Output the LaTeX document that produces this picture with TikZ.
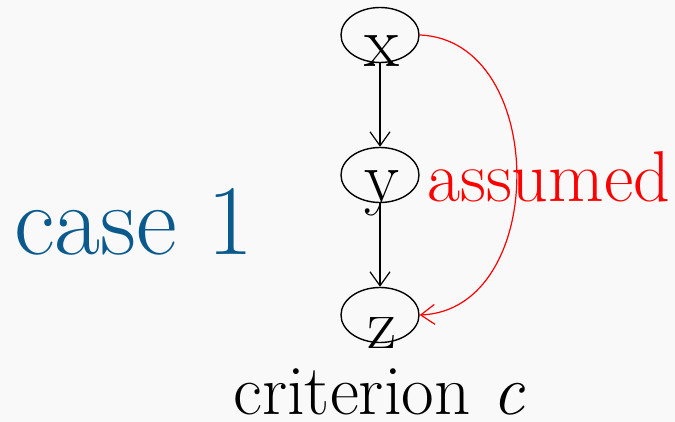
\documentclass[tikz,border=0pt]{standalone}
\usetikzlibrary{shapes.geometric,arrows.meta}
\definecolor{bg}{RGB}{249,249,249}
\definecolor{caseblue}{RGB}{11,90,142}
\begin{document}
\begin{tikzpicture}[x=1pt,y=-1pt,
 ell/.style={draw,ellipse,line width=1.4pt,minimum width=78pt,minimum height=55pt,inner sep=0pt},
 letter/.style={inner sep=0pt,anchor=base,font=\fontsize{72}{80}\selectfont},
 arr/.style={-{Straight Barb[length=14pt,width=20pt]},line width=1.2pt},
 txt/.style={inner sep=0pt,anchor=base west}
]
\fill[bg] (0,0) rectangle (675,422);
\useasboundingbox (0,0) rectangle (675,422);
\node[ell] (x) at (380,35) {};
\node[ell] (y) at (380,175) {};
\node[ell] (z) at (380,315) {};
\node[letter] (xl) at (382,67) {x};
\node[letter] (yl) at (382,202) {y};
\node[letter] (zl) at (382,348) {z};
\draw[arr] (x.south) -- (y.north);
\draw[arr] (y.south) -- (z.north);
\draw[arr,red] (x.east) .. controls (549,40) and (549,310) .. (z.east);
\node[txt,text=red,font=\fontsize{72}{80}\selectfont] (assumed) at (427,202) {assumed};
\node[txt,text=caseblue,font=\fontsize{100}{110}\selectfont] (case) at (14,255) {case 1};
\node[txt,font=\fontsize{71}{80}\selectfont] (crit) at (233,414) {criterion \textit{c}};
\end{tikzpicture}
\end{document}
